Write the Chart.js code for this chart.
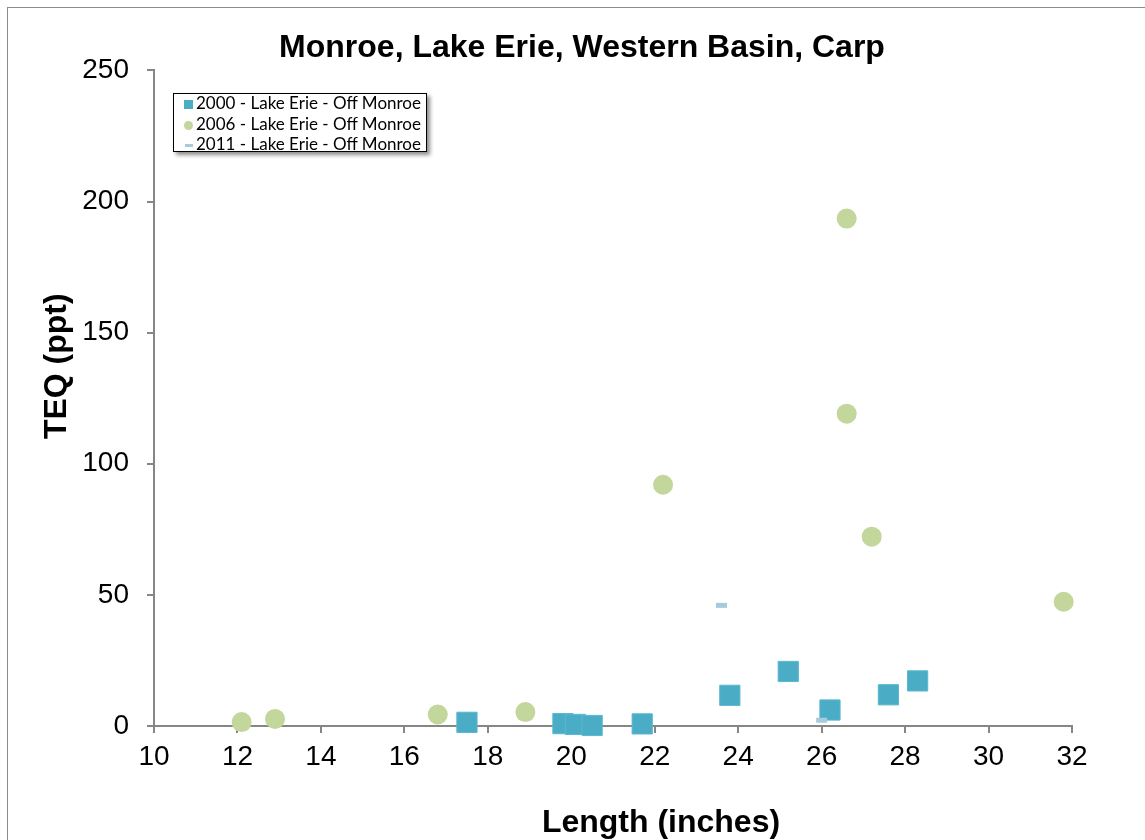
<!DOCTYPE html>
<html>
<head>
<meta charset="utf-8">
<script src="https://cdn.jsdelivr.net/npm/chart.js@4"></script>
<style>
  html, body { margin: 0; padding: 0; background: #fff; overflow: hidden; }
  #wrap { position: relative; width: 1145px; height: 840px; }
  #frame { position: absolute; left: 7px; top: 7px; width: 1300px; height: 1000px; border: 1.5px solid #8c8c8c; }
  #c { position: absolute; left: 0; top: 0; }
  #legend {
    position: absolute; left: 173px; top: 93px; width: 252px; height: 57px;
    border: 1.5px solid #000; background: #fff;
    box-shadow: 3px 3px 4px rgba(0,0,0,0.45);
    font-family: Lato, 'Open Sans', sans-serif; font-size: 17px; color: #000;
  }
  .row { position: absolute; left: 10px; height: 20px; line-height: 20px; white-space: nowrap; }
  .row span.m { display: inline-block; vertical-align: middle; margin-right: 3px; }
</style>
</head>
<body>
<div id="wrap">
  <div id="frame"></div>
  <canvas id="c" width="1145" height="840"></canvas>
  <div id="legend"></div>
</div>
<script>
// data
const len2000 = [17.5, 19.8, 20.1, 20.5, 21.7, 23.8, 25.2, 26.2, 27.6, 28.3];
const teq2000 = [1.4, 0.9, 0.6, 0.2, 0.8, 11.7, 20.8, 6.1, 11.9, 17.2];
const len2006 = [12.1, 12.9, 16.8, 18.9, 22.2, 26.6, 26.6, 27.2, 31.8];
const teq2006 = [1.5, 2.7, 4.4, 5.3, 92.0, 193.5, 119.1, 72.2, 47.4];
const len2011 = [23.6, 26.0];
const teq2011 = [46.0, 2.2];

const seriesNames = ['2000 - Lake Erie - Off Monroe', '2006 - Lake Erie - Off Monroe', '2011 - Lake Erie - Off Monroe'];
const xTicks = [10, 12, 14, 16, 18, 20, 22, 24, 26, 28, 30, 32];
const yTicks = [0, 50, 100, 150, 200, 250];

const chartTitle = 'Monroe, Lake Erie, Western Basin, Carp';
const xTitle = 'Length (inches)';
const yTitle = 'TEQ (ppt)';

const colSquare = '#4bacc6';
const colCircle = '#c3d69b';
const colDash = '#a5cbdd';

function pts(xs, ys) {
    return xs.map((x, i) => ({ x: x, y: ys[i] }));
}

// axis titles sit off-centre in the original, so draw them here
const axisTitles = {
    id: 'axisTitles',
    afterDraw(chart) {
        const ctx = chart.ctx;
        const a = chart.chartArea;
        ctx.save();
        ctx.fillStyle = '#000';
        ctx.font = 'bold 32px "Liberation Sans", Arial, sans-serif';
        ctx.textAlign = 'center';
        ctx.textBaseline = 'middle';
        ctx.fillText(xTitle, (a.left + a.right) / 2 + 48, 823);
        ctx.translate(57, (a.top + a.bottom) / 2 - 32);
        ctx.rotate(-Math.PI / 2);
        ctx.fillText(yTitle, 0, 0);
        ctx.restore();
    }
};

const tickFont = { family: '"Liberation Sans", Arial, sans-serif', size: 28 };

const chart = new Chart(document.getElementById('c'), {
    type: 'scatter',
    data: {
        datasets: [
            {
                label: seriesNames[0],
                data: pts(len2000, teq2000),
                pointStyle: 'rect',
                pointRadius: 14.3,
                backgroundColor: colSquare,
                borderColor: '#5ab8d0',
                borderWidth: 1,
                clip: false,
                order: 1
            },
            {
                label: seriesNames[1],
                data: pts(len2006, teq2006),
                pointStyle: 'circle',
                pointRadius: 10,
                backgroundColor: colCircle,
                borderColor: colCircle,
                borderWidth: 0,
                clip: false,
                order: 2
            },
            {
                label: seriesNames[2],
                data: pts(len2011, teq2011),
                pointStyle: 'line',
                pointRadius: 5.5,
                backgroundColor: colDash,
                borderColor: colDash,
                borderWidth: 5,
                clip: false,
                order: 0
            }
        ]
    },
    options: {
        responsive: false,
        animation: false,
        events: [],
        layout: { padding: { left: 19, right: 0, top: 0, bottom: 0 } },
        plugins: {
            legend: { display: false },
            tooltip: { enabled: false },
            title: {
                display: true,
                text: chartTitle,
                color: '#000',
                font: { family: '"Liberation Sans", Arial, sans-serif', size: 32, weight: 'bold' },
                padding: { top: 29, bottom: 3 }
            }
        },
        scales: {
            x: {
                type: 'linear',
                min: xTicks[0],
                max: xTicks[xTicks.length - 1],
                afterBuildTicks: s => { s.ticks = xTicks.map(v => ({ value: v })); },
                ticks: { color: '#000', font: tickFont, padding: 7, maxRotation: 0 },
                grid: { display: true, drawOnChartArea: false, tickLength: 7, color: '#868686', lineWidth: 2 },
                border: { color: '#868686', width: 2 },
                afterFit: s => { s.height = 114; }
            },
            y: {
                type: 'linear',
                min: yTicks[0],
                max: yTicks[yTicks.length - 1],
                afterBuildTicks: s => { s.ticks = yTicks.map(v => ({ value: v })); },
                ticks: { color: '#000', font: tickFont, padding: 18 },
                grid: { display: true, drawOnChartArea: false, tickLength: 7, color: '#868686', lineWidth: 2 },
                border: { color: '#868686', width: 2 },
                afterFit: s => { s.width = 135; }
            },
            y2: {
                type: 'linear',
                position: 'right',
                display: true,
                min: 0,
                max: 1,
                ticks: { display: false },
                grid: { display: false },
                border: { display: false },
                afterFit: s => { s.width = 73; }
            }
        }
    },
    plugins: [axisTitles]
});

// legend box, drawn in html
const legendEl = document.getElementById('legend');
const markers = [
    '<span class="m" style="width:9px;height:9px;background:' + colSquare + '"></span>',
    '<span class="m" style="width:9px;height:9px;border-radius:50%;background:' + colCircle + '"></span>',
    '<span class="m" style="width:8px;height:3px;margin-left:1px;background:' + colDash + '"></span>'
];
seriesNames.forEach((name, i) => {
    const row = document.createElement('div');
    row.className = 'row';
    row.style.top = (-1 + i * 20.5) + 'px';
    row.innerHTML = markers[i] + '<span>' + name + '</span>';
    legendEl.appendChild(row);
});
</script>
</body>
</html>
